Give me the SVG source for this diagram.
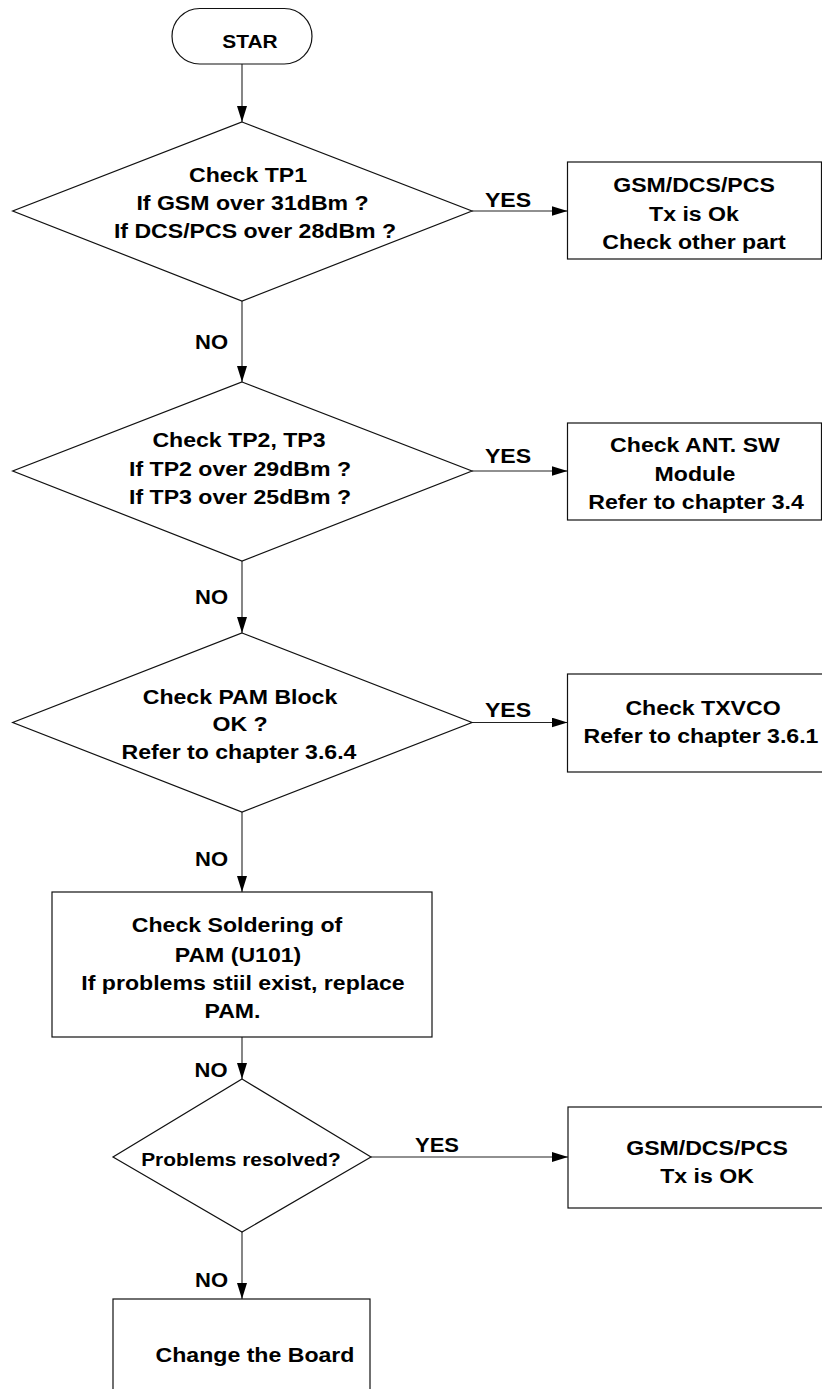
<svg xmlns="http://www.w3.org/2000/svg" width="822" height="1389" viewBox="0 0 822 1389">
  <style>
    .shape { fill: #fff; stroke: #111; stroke-width: 1.2; }
    .link { fill: none; stroke: #222; stroke-width: 1.1; }
    .t { font-family: "Liberation Sans", Arial, Helvetica, sans-serif; font-weight: bold; font-size: 21px; text-anchor: middle; fill: #000; }
    .s { font-size: 19px; }
    .lbl { font-size: 20px; }
  </style>
  <defs>
    <marker id="arrow" markerUnits="userSpaceOnUse" markerWidth="16" markerHeight="10" refX="16" refY="5" orient="auto">
      <path d="M0,0 L16,5 L0,10 z" fill="#000"/>
    </marker>
  </defs>

  <rect width="822" height="1389" fill="#fff"/>

  <!-- connectors -->
  <g id="connectors">
    <line class="link" x1="242" y1="64" x2="242" y2="122" marker-end="url(#arrow)"/>
    <line class="link" x1="472" y1="211" x2="567.5" y2="211" marker-end="url(#arrow)"/>
    <line class="link" x1="242" y1="301" x2="242" y2="382" marker-end="url(#arrow)"/>
    <line class="link" x1="472" y1="471" x2="567.5" y2="471" marker-end="url(#arrow)"/>
    <line class="link" x1="242" y1="561" x2="242" y2="633" marker-end="url(#arrow)"/>
    <line class="link" x1="472" y1="722.5" x2="567.5" y2="722.5" marker-end="url(#arrow)"/>
    <line class="link" x1="242" y1="812" x2="242" y2="892" marker-end="url(#arrow)"/>
    <line class="link" x1="242" y1="1037" x2="242" y2="1079" marker-end="url(#arrow)"/>
    <line class="link" x1="371" y1="1157" x2="568" y2="1157" marker-end="url(#arrow)"/>
    <line class="link" x1="242" y1="1232" x2="242" y2="1299" marker-end="url(#arrow)"/>

    <text class="t" transform="translate(508 207) scale(1.1 1)">YES</text>
    <text class="t" transform="translate(508 463) scale(1.1 1)">YES</text>
    <text class="t" transform="translate(508 717) scale(1.1 1)">YES</text>
    <text class="t lbl" transform="translate(437 1152) scale(1.1 1)">YES</text>

    <text class="t lbl" transform="translate(211.5 349) scale(1.1 1)">NO</text>
    <text class="t lbl" transform="translate(211.5 604) scale(1.1 1)">NO</text>
    <text class="t lbl" transform="translate(211.5 866) scale(1.1 1)">NO</text>
    <text class="t lbl" transform="translate(211 1077) scale(1.1 1)">NO</text>
    <text class="t lbl" transform="translate(211.5 1287) scale(1.1 1)">NO</text>
  </g>

  <!-- start terminal -->
  <g id="start">
    <rect class="shape" x="172" y="8.5" width="140" height="55.5" rx="27.75" ry="27.75"/>
    <text class="t s" transform="translate(250 48) scale(1.1 1)">STAR</text>
  </g>

  <!-- decision: TP1 -->
  <g id="check-tp1">
    <polygon class="shape" points="242,122 472,211 242,301 12.7,211"/>
    <text class="t" transform="translate(248 182) scale(1.1 1)">Check TP1</text>
    <text class="t" transform="translate(252.5 209.5) scale(1.1 1)">If GSM over 31dBm ?</text>
    <text class="t" transform="translate(255 237.5) scale(1.1 1)">If DCS/PCS over 28dBm ?</text>
  </g>

  <g id="tx-ok-other">
    <rect class="shape" x="567.5" y="162" width="254" height="97"/>
    <text class="t" transform="translate(694 192) scale(1.1 1)">GSM/DCS/PCS</text>
    <text class="t" transform="translate(694 221) scale(1.1 1)">Tx is Ok</text>
    <text class="t" transform="translate(694 249) scale(1.1 1)">Check other part</text>
  </g>

  <!-- decision: TP2 / TP3 -->
  <g id="check-tp2-tp3">
    <polygon class="shape" points="242,382 472,471 242,561 12.7,471"/>
    <text class="t" transform="translate(239 447) scale(1.1 1)">Check TP2, TP3</text>
    <text class="t" transform="translate(240 476) scale(1.1 1)">If TP2 over 29dBm ?</text>
    <text class="t" transform="translate(240 504) scale(1.1 1)">If TP3 over 25dBm ?</text>
  </g>

  <g id="ant-sw">
    <rect class="shape" x="567.5" y="423" width="254" height="97"/>
    <text class="t" transform="translate(695 452) scale(1.1 1)">Check ANT. SW</text>
    <text class="t" transform="translate(695 481) scale(1.1 1)">Module</text>
    <text class="t" transform="translate(696 509) scale(1.1 1)">Refer to chapter 3.4</text>
  </g>

  <!-- decision: PAM block -->
  <g id="check-pam">
    <polygon class="shape" points="242,633 472,722.5 242,812 12.7,722.5"/>
    <text class="t" transform="translate(240 704) scale(1.1 1)">Check PAM Block</text>
    <text class="t" transform="translate(240 731) scale(1.1 1)">OK ?</text>
    <text class="t" transform="translate(239 759) scale(1.1 1)">Refer to chapter 3.6.4</text>
  </g>

  <g id="txvco">
    <rect class="shape" x="567.5" y="674" width="272" height="98"/>
    <text class="t" transform="translate(703 715) scale(1.1 1)">Check TXVCO</text>
    <text class="t" transform="translate(701 743) scale(1.1 1)">Refer to chapter 3.6.1</text>
  </g>

  <!-- process: soldering -->
  <g id="soldering">
    <rect class="shape" x="52" y="892" width="380" height="145"/>
    <text class="t" transform="translate(237 932) scale(1.1 1)">Check Soldering of</text>
    <text class="t" transform="translate(238 962) scale(1.1 1)">PAM (U101)</text>
    <text class="t" transform="translate(243 990) scale(1.1 1)">If problems stiil exist, replace</text>
    <text class="t" transform="translate(232.5 1018) scale(1.1 1)">PAM.</text>
  </g>

  <!-- decision: resolved -->
  <g id="resolved">
    <polygon class="shape" points="242,1079 371,1157 242,1232 113,1157"/>
    <text class="t s" transform="translate(241 1166) scale(1.1 1)">Problems resolved?</text>
  </g>

  <g id="tx-ok">
    <rect class="shape" x="568" y="1107" width="278" height="101"/>
    <text class="t" transform="translate(707 1155) scale(1.1 1)">GSM/DCS/PCS</text>
    <text class="t" transform="translate(707 1183) scale(1.1 1)">Tx is OK</text>
  </g>

  <!-- process: board replacement -->
  <g id="change-board">
    <rect class="shape" x="113" y="1299" width="257" height="110"/>
    <text class="t" transform="translate(255 1362) scale(1.1 1)">Change the Board</text>
  </g>
</svg>
